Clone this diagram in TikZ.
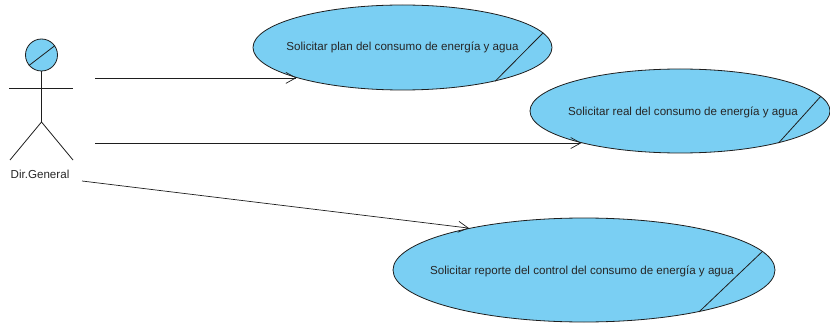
\documentclass[tikz,border=0pt]{standalone}
\usepackage{fontspec}
\setmainfont{Liberation Sans}
\usetikzlibrary{shapes.geometric,arrows.meta}
\definecolor{ucfill}{RGB}{122,207,243}
\definecolor{ucline}{RGB}{30,30,30}
\tikzset{
  usecase/.style={ellipse,draw=ucline,fill=ucfill,line width=0.8pt,inner sep=0pt},
  uctext/.style={inner sep=0pt,font=\fontsize{11.6}{13}\selectfont,text=black!85},
  assoc/.style={draw=ucline,line width=0.7pt,-{Straight Barb[length=10pt,width=11pt]}},
  actorline/.style={draw=ucline,line width=0.8pt},
  marker/.style={draw=ucline,line width=0.8pt}
}
\begin{document}
\begin{tikzpicture}[x=1pt,y=-1pt]
\useasboundingbox (0,0) rectangle (830,326);
% use cases
\node[usecase,minimum width=299pt,minimum height=85pt] (e1) at (402.5,47.5) {};
\node[uctext] (t1) at (e1.center) {Solicitar plan del consumo de energía y agua};
\node[usecase,minimum width=300pt,minimum height=84pt] (e2) at (680,111) {};
\node[uctext] (t2) at (683,112) {Solicitar real del consumo de energía y agua};
\node[usecase,minimum width=382pt,minimum height=104pt] (e3) at (584,270) {};
\node[uctext] (t3) at (582,271) {Solicitar reporte del control del consumo de energía y agua};
\draw[marker] (e1.6) -- (e1.-20);
\draw[marker] (e2.6) -- (e2.-18);
\draw[marker] (e3.6) -- (e3.-20);
% actor
\node[circle,draw=ucline,fill=ucfill,line width=0.8pt,minimum size=32pt,inner sep=0pt] (head) at (41.5,55) {};
\draw[marker] (head.220) -- (head.35);
\coordinate (neck) at (41.5,71);
\coordinate (hip) at (41.5,122);
\coordinate (armL) at (9,88);
\coordinate (armR) at (73,88);
\coordinate (legL) at (10,160);
\coordinate (legR) at (73,160);
\draw[actorline] (neck) -- (hip);
\draw[actorline] (armL) -- (armR);
\draw[actorline] (legL) -- (hip) -- (legR);
\node[uctext] (actor) at (40,174) {Dir.General};
% associations
\coordinate (s1) at (95,78);
\coordinate (s3) at (82,181);
\draw[assoc] (e1.196 -| s1) -- (e1.196);
\draw[assoc] (e2.198 -| s1) -- (e2.198);
\draw[assoc] (s3) -- (e3.160);
\end{tikzpicture}
\end{document}
